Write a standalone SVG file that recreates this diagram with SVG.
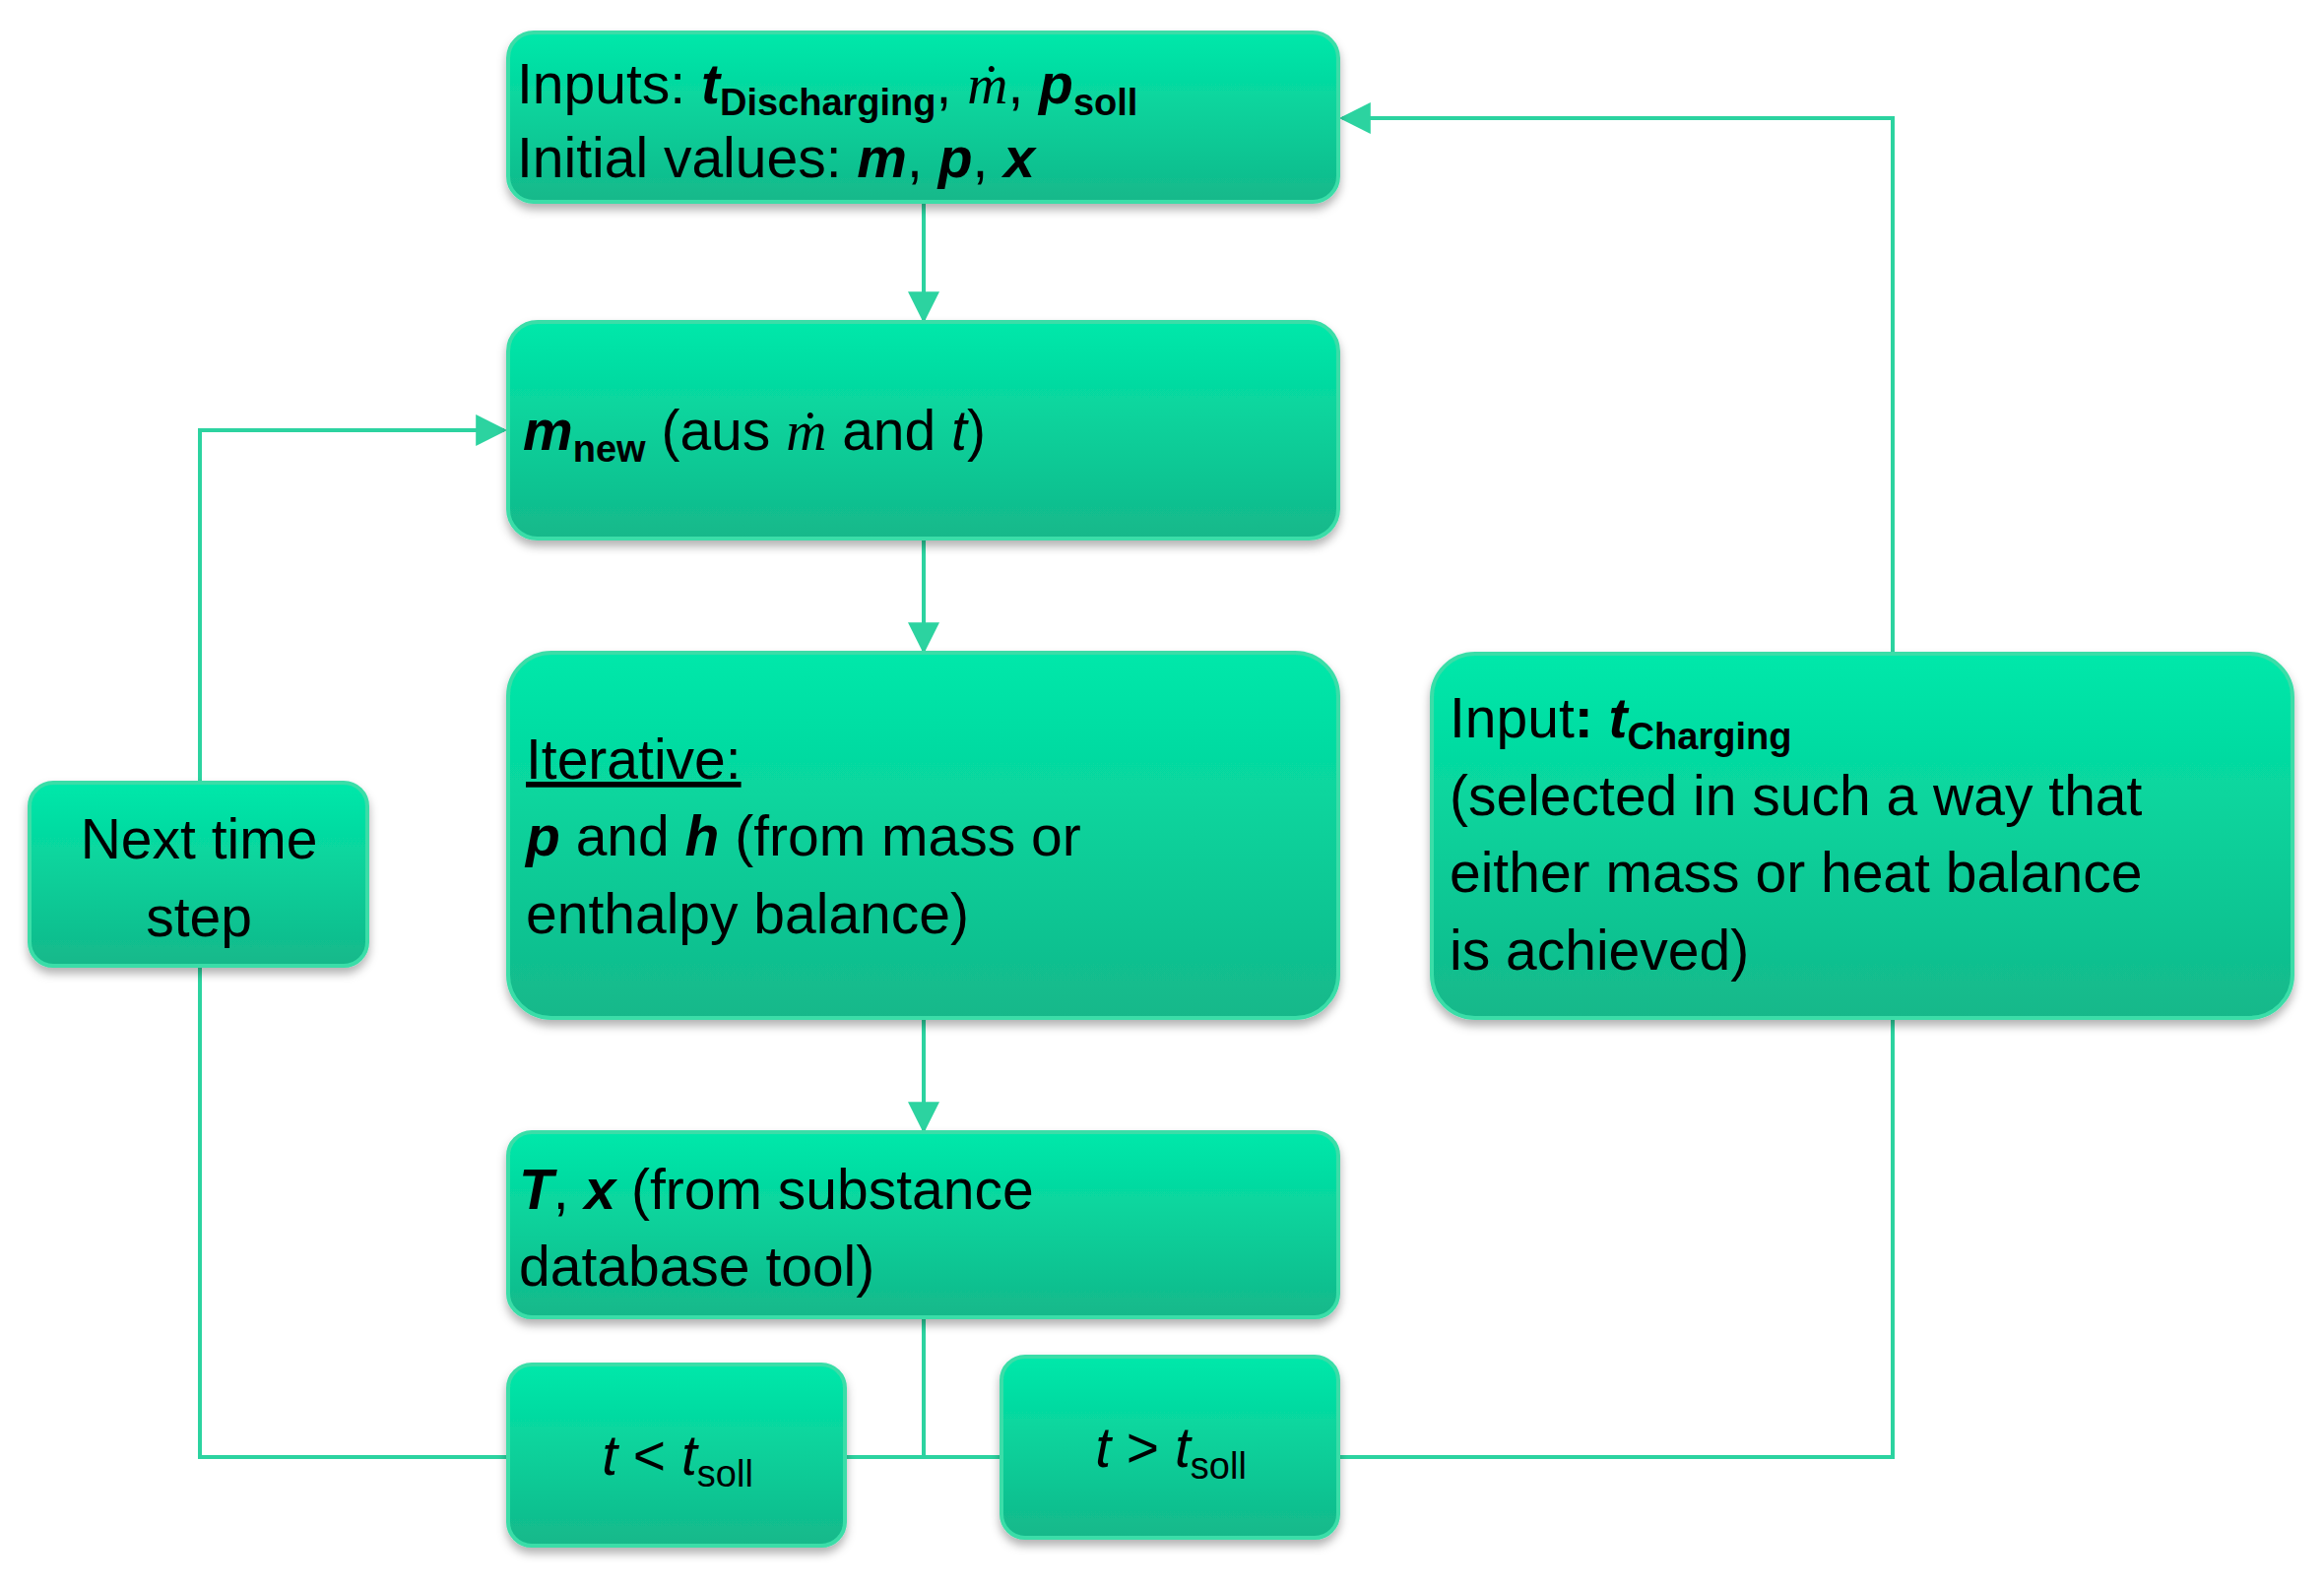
<svg xmlns="http://www.w3.org/2000/svg" width="2360" height="1612" viewBox="0 0 2360 1612">
<defs>
<linearGradient id="g" x1="0" y1="0" x2="0" y2="1"><stop offset="0" stop-color="#00E8AA"/><stop offset="1" stop-color="#14B88A"/></linearGradient>
<filter id="sh" x="-10%" y="-10%" width="120%" height="130%"><feDropShadow dx="0" dy="6" stdDeviation="5" flood-color="#000" flood-opacity="0.3"/></filter>
<marker id="ah" viewBox="0 0 10 10" refX="9" refY="5" markerWidth="8" markerHeight="8" markerUnits="userSpaceOnUse" orient="auto"><path d="M0,0 L10,5 L0,10 z" fill="#2CD3A0"/></marker>
<marker id="a" viewBox="0 0 10 10" refX="9" refY="5" markerWidth="32" markerHeight="32" markerUnits="userSpaceOnUse" orient="auto"><path d="M0,0 L10,5 L0,10 z" fill="#2CD3A0"/></marker>
</defs>
<style>
.b{fill:url(#g);stroke:#3ADDA8;stroke-width:4;filter:url(#sh)}
text{font-family:"Liberation Sans",Arial,sans-serif;font-size:57px;fill:#000}
.bi{font-weight:bold;font-style:italic}
.i{font-style:italic}
.s{font-size:38px}
.m{font-family:"Liberation Serif","Times New Roman",serif;font-style:italic}
.c{fill:none;stroke:#2CD3A0;stroke-width:4}
</style>
<rect width="2360" height="1612" fill="#fff"/>
<g id="connectors">
<path class="c" d="M938,205 V325" marker-end="url(#a)"/>
<path class="c" d="M938,547 V661" marker-end="url(#a)"/>
<path class="c" d="M938,1034 V1148" marker-end="url(#a)"/>
<path class="c" d="M938,1338 V1480"/>
<path class="c" d="M516,1480 H203 V981"/>
<path class="c" d="M203,795 V437 H512" marker-end="url(#a)"/>
<path class="c" d="M858,1480 H1017"/>
<path class="c" d="M1359,1480 H1922 V1034"/>
<path class="c" d="M1922,664 V120 H1363" marker-end="url(#a)"/>
</g>
<g id="n1"><rect class="b" x="516" y="33" width="843" height="172" rx="26"/>
<text x="525" y="105">Inputs: <tspan class="bi">t</tspan><tspan class="s" font-weight="bold" dy="12">Discharging</tspan><tspan dy="-12">,  </tspan><tspan class="m">ṁ</tspan>, <tspan class="bi">p</tspan><tspan class="s" font-weight="bold" dy="12">soll</tspan></text>
<text x="525" y="180">Initial values: <tspan class="bi">m</tspan>, <tspan class="bi">p</tspan>, <tspan class="bi">x</tspan></text></g>
<g id="n2"><rect class="b" x="516" y="327" width="843" height="220" rx="30"/>
<text x="531" y="457"><tspan class="bi">m</tspan><tspan class="s" font-weight="bold" dy="12">new</tspan><tspan dy="-12"> (aus </tspan><tspan class="m">ṁ</tspan> and <tspan class="i">t</tspan>)</text></g>
<g id="n3"><rect class="b" x="516" y="663" width="843" height="371" rx="44"/>
<text x="534" y="791" text-decoration="underline">Iterative:</text>
<text x="534" y="869"><tspan class="bi">p</tspan> and <tspan class="bi">h</tspan> (from mass or</text>
<text x="534" y="948">enthalpy balance)</text></g>
<g id="n4"><rect class="b" x="516" y="1150" width="843" height="188" rx="24"/>
<text x="527" y="1228"><tspan class="bi">T</tspan>, <tspan class="bi">x</tspan> (from substance</text>
<text x="527" y="1306">database tool)</text></g>
<g id="n5"><rect class="b" x="516" y="1386" width="342" height="184" rx="24"/>
<text x="688" y="1498" text-anchor="middle"><tspan class="i">t</tspan> &lt; <tspan class="i">t</tspan><tspan class="s" dy="12">soll</tspan></text></g>
<g id="n6"><rect class="b" x="1017" y="1378" width="342" height="184" rx="24"/>
<text x="1189" y="1490" text-anchor="middle"><tspan class="i">t</tspan> &gt; <tspan class="i">t</tspan><tspan class="s" dy="12">soll</tspan></text></g>
<g id="n7"><rect class="b" x="30" y="795" width="343" height="186" rx="24"/>
<text x="202" y="872" text-anchor="middle">Next time</text>
<text x="202" y="951" text-anchor="middle">step</text></g>
<g id="n8"><rect class="b" x="1454" y="664" width="874" height="370" rx="44"/>
<text x="1472" y="749">Input<tspan font-weight="bold">: </tspan><tspan class="bi">t</tspan><tspan class="s" font-weight="bold" dy="12">Charging</tspan></text>
<text x="1472" y="828">(selected in such a way that</text>
<text x="1472" y="906">either mass or heat balance</text>
<text x="1472" y="985">is achieved)</text></g>
</svg>
